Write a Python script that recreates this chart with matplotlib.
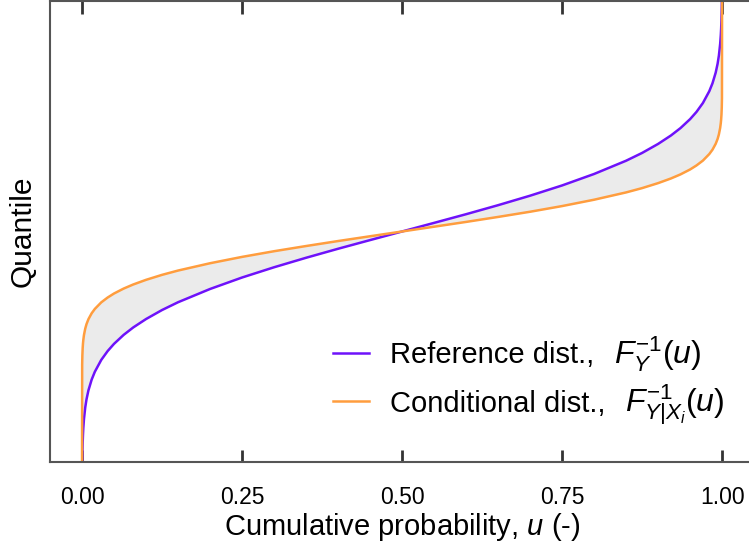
# quantile_comparison.py
# Reference vs conditional quantile functions with the area between them shaded

import matplotlib
matplotlib.use("Agg")
import matplotlib.pyplot as plt
from matplotlib.transforms import IdentityTransform
import numpy as np

plt.rcParams['font.family'] = ['Liberation Sans', 'DejaVu Sans']
plt.rcParams['mathtext.fontset'] = 'custom'
plt.rcParams['mathtext.rm'] = 'Liberation Sans'
plt.rcParams['mathtext.it'] = 'Liberation Sans:italic'
plt.rcParams['mathtext.bf'] = 'Liberation Sans:bold'

# cumulative probability levels
u = [0.0, 0.0002, 0.0005, 0.001, 0.0015, 0.002, 0.003, 0.005, 0.007, 0.01,
     0.015, 0.02, 0.03, 0.04, 0.05, 0.065, 0.08, 0.1, 0.125, 0.15, 0.2, 0.25,
     0.3, 0.35, 0.4, 0.45, 0.5,
     0.55, 0.6, 0.65, 0.7, 0.75, 0.8, 0.85, 0.875, 0.9, 0.92, 0.935, 0.95,
     0.96, 0.97, 0.98, 0.985, 0.99, 0.993, 0.995, 0.997, 0.998, 0.9985,
     0.999, 0.9995, 0.9998, 1.0]

# quantiles (arbitrary units, median at 0)
q_reference = [-3.6, -3.54, -3.291, -3.09, -2.968, -2.878, -2.748, -2.576, -2.457, -2.326,
               -2.17, -2.054, -1.881, -1.751, -1.645, -1.514, -1.405, -1.282, -1.15, -1.036,
               -0.842, -0.674, -0.524, -0.385, -0.253, -0.126, 0.0,
               0.126, 0.253, 0.385, 0.524, 0.674, 0.842, 1.036, 1.15, 1.282, 1.405,
               1.514, 1.645, 1.751, 1.881, 2.054, 2.17, 2.326, 2.457, 2.576, 2.748,
               2.878, 2.968, 3.09, 3.291, 3.54, 3.6]

q_conditional = [-3.6, -1.954, -1.817, -1.706, -1.638, -1.589, -1.517, -1.422, -1.356, -1.284,
                 -1.198, -1.134, -1.038, -0.967, -0.908, -0.836, -0.776, -0.708, -0.635, -0.572,
                 -0.465, -0.372, -0.289, -0.213, -0.14, -0.07, 0.0,
                 0.07, 0.14, 0.213, 0.289, 0.372, 0.465, 0.572, 0.635, 0.708, 0.776,
                 0.836, 0.908, 0.967, 1.038, 1.134, 1.198, 1.284, 1.356, 1.422, 1.517,
                 1.589, 1.638, 1.706, 1.817, 1.954, 3.6]

labels = ['Reference dist.,', 'Conditional dist.,']
math_labels = [r'$F_{Y}^{-1}(u)$', r'$F_{Y|X_i}^{-1}(u)$']
colors = ['#6e12fa', '#ff9d3e']

W, H = 749, 549
fig = plt.figure(figsize=(W / 100, H / 100), dpi=100)
ax = fig.add_axes([0.0668, 0.1585, 0.94, 0.8397])

ax.fill_between(u, q_reference, q_conditional, color='#ebebeb', lw=0)
ax.plot(u, q_reference, color=colors[0], lw=1.8, label=labels[0])
ax.plot(u, q_conditional, color=colors[1], lw=1.8, label=labels[1])

ax.set_xlim(-0.05, 1.05)
ax.set_ylim(-3.375, 3.375)
ax.set_xticks([0.0, 0.25, 0.5, 0.75, 1.0])
ax.set_xticklabels(['0.00', '0.25', '0.50', '0.75', '1.00'])
ax.set_yticks([])

ax.tick_params(axis='x', direction='in', length=9, width=2, color='#333333',
               top=True, labelsize=16.5, pad=17.5)
for side in ['left', 'top', 'bottom']:
    ax.spines[side].set_color('#555555')
    ax.spines[side].set_linewidth(1.5)
ax.spines['right'].set_visible(False)

ax.set_xlabel('Cumulative probability, $u$ (-)', fontsize=21, labelpad=1)
ax.set_ylabel('Quantile', fontsize=21.5, labelpad=10)

# legend: line handles + plain text, math part added as bigger text next to it
leg_kw = dict(loc='upper left', frameon=False, fontsize=21, handlelength=1.25,
              handletextpad=0.7, labelspacing=0.7, borderpad=0, borderaxespad=0,
              bbox_transform=IdentityTransform())
leg = ax.legend(bbox_to_anchor=(333, H - 330), **leg_kw)
fig.canvas.draw()
r = fig.canvas.get_renderer()
hb = leg.legend_handles[0].get_window_extent(r)
# target: first handle from x=333, at y=353 (from top)
dx = 333 - hb.x0
dy = (H - 353) - (hb.y0 + hb.y1) / 2
leg.remove()
leg = ax.legend(bbox_to_anchor=(333 + dx, H - 330 + dy), **leg_kw)
fig.canvas.draw()

for t, m in zip(leg.get_texts(), math_labels):
    bb = t.get_window_extent(r)
    bx, by = t.get_transform().transform(t.get_position())
    fig.text(bb.x1 + 20, by, m, transform=IdentityTransform(),
             fontsize=23, ha='left', va='baseline')

fig.savefig('out.png', dpi=100)
